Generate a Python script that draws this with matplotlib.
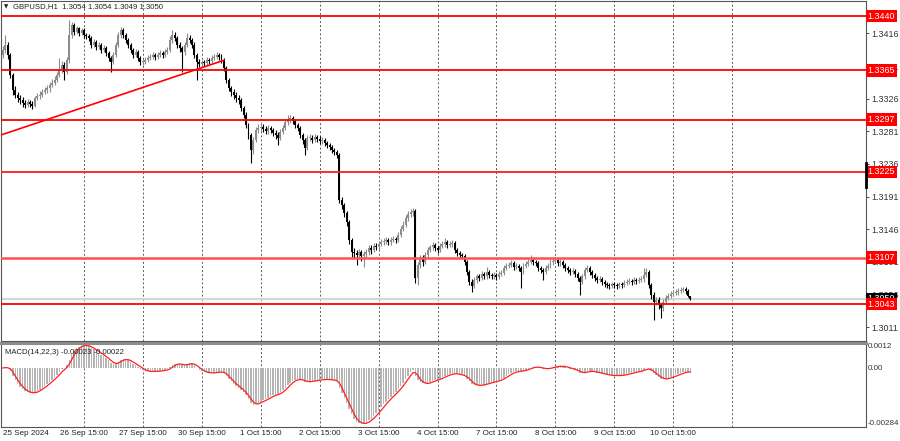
import matplotlib
matplotlib.use("Agg")
import matplotlib.pyplot as plt
import matplotlib.transforms as mtransforms
import numpy as np
import pandas as pd

plt.rcParams['font.family'] = ['Liberation Sans', 'DejaVu Sans']

# GBPUSD H1, one value per bar (bar 0 = 25 Sep 06:00)
first_open = 1.3386
closes = [
    1.3393, 1.3400, 1.3386, 1.3359, 1.3338, 1.3331, 1.3327, 1.3324, 1.3320, 1.3317,
    1.3321, 1.3319, 1.3316, 1.3327, 1.3330, 1.3331, 1.3335, 1.3338, 1.3341, 1.3345,
    1.3348, 1.3352, 1.3359, 1.3366, 1.3372, 1.3363, 1.3379, 1.3414, 1.3428, 1.3418,
    1.3423, 1.3417, 1.3421, 1.3414, 1.3412, 1.3410, 1.3400, 1.3404, 1.3397, 1.3400,
    1.3393, 1.3396, 1.3389, 1.3382, 1.3377, 1.3386, 1.3400, 1.3414, 1.3421, 1.3414,
    1.3407, 1.3400, 1.3393, 1.3386, 1.3390, 1.3382, 1.3377, 1.3377, 1.3379, 1.3382,
    1.3384, 1.3386, 1.3384, 1.3386, 1.3389, 1.3386, 1.3390, 1.3393, 1.3407, 1.3414,
    1.3410, 1.3400, 1.3396, 1.3390, 1.3400, 1.3410, 1.3407, 1.3400, 1.3386, 1.3377,
    1.3374, 1.3377, 1.3375, 1.3379, 1.3378, 1.3382, 1.3384, 1.3386, 1.3384, 1.3379,
    1.3368, 1.3352, 1.3341, 1.3335, 1.3331, 1.3327, 1.3324, 1.3313, 1.3304, 1.3290,
    1.3276, 1.3255, 1.3269, 1.3283, 1.3286, 1.3287, 1.3284, 1.3281, 1.3286, 1.3283,
    1.3279, 1.3276, 1.3272, 1.3280, 1.3286, 1.3294, 1.3297, 1.3299, 1.3295, 1.3290,
    1.3286, 1.3276, 1.3269, 1.3258, 1.3272, 1.3272, 1.3269, 1.3273, 1.3270, 1.3268,
    1.3269, 1.3265, 1.3262, 1.3259, 1.3255, 1.3252, 1.3248, 1.3186, 1.3179, 1.3168,
    1.3156, 1.3131, 1.3115, 1.3113, 1.3110, 1.3115, 1.3109, 1.3112, 1.3115, 1.3120,
    1.3117, 1.3123, 1.3121, 1.3126, 1.3128, 1.3130, 1.3131, 1.3128, 1.3131, 1.3133,
    1.3131, 1.3138, 1.3147, 1.3152, 1.3162, 1.3167, 1.3170, 1.3171, 1.3079, 1.3097,
    1.3106, 1.3101, 1.3110, 1.3117, 1.3121, 1.3124, 1.3120, 1.3117, 1.3123, 1.3126,
    1.3128, 1.3124, 1.3126, 1.3127, 1.3117, 1.3113, 1.3110, 1.3109, 1.3101, 1.3087,
    1.3073, 1.3068, 1.3076, 1.3081, 1.3079, 1.3084, 1.3081, 1.3087, 1.3083, 1.3081,
    1.3083, 1.3080, 1.3084, 1.3086, 1.3093, 1.3095, 1.3097, 1.3099, 1.3094, 1.3095,
    1.3093, 1.3087, 1.3095, 1.3098, 1.3101, 1.3104, 1.3101, 1.3099, 1.3093, 1.3090,
    1.3087, 1.3093, 1.3095, 1.3101, 1.3102, 1.3104, 1.3099, 1.3101, 1.3097, 1.3093,
    1.3090, 1.3087, 1.3088, 1.3084, 1.3079, 1.3073, 1.3081, 1.3090, 1.3093, 1.3087,
    1.3083, 1.3079, 1.3076, 1.3077, 1.3073, 1.3070, 1.3069, 1.3068, 1.3070, 1.3069,
    1.3068, 1.3070, 1.3069, 1.3072, 1.3073, 1.3075, 1.3073, 1.3076, 1.3075, 1.3076,
    1.3077, 1.3083, 1.3087, 1.3069, 1.3055, 1.3046, 1.3048, 1.3041, 1.3037, 1.3046,
    1.3051, 1.3054, 1.3057, 1.3058, 1.3059, 1.3061, 1.3062, 1.3064, 1.3061, 1.3054, 1.3050,
]
highs = [
    1.3398, 1.3414, 1.3404, 1.3389, 1.3362, 1.3343, 1.3335, 1.3331, 1.3328, 1.3324,
    1.3325, 1.3324, 1.3323, 1.3330, 1.3334, 1.3336, 1.3339, 1.3342, 1.3345, 1.3349,
    1.3353, 1.3357, 1.3363, 1.3382, 1.3378, 1.3376, 1.3384, 1.3434, 1.3432, 1.3430,
    1.3426, 1.3425, 1.3424, 1.3423, 1.3417, 1.3415, 1.3413, 1.3408, 1.3407, 1.3404,
    1.3403, 1.3400, 1.3399, 1.3392, 1.3385, 1.3390, 1.3404, 1.3418, 1.3425, 1.3424,
    1.3417, 1.3410, 1.3403, 1.3396, 1.3394, 1.3393, 1.3385, 1.3381, 1.3383, 1.3386,
    1.3388, 1.3390, 1.3389, 1.3390, 1.3393, 1.3392, 1.3394, 1.3397, 1.3412, 1.3421,
    1.3418, 1.3413, 1.3404, 1.3399, 1.3404, 1.3417, 1.3414, 1.3410, 1.3404, 1.3389,
    1.3381, 1.3380, 1.3380, 1.3383, 1.3382, 1.3386, 1.3388, 1.3390, 1.3389, 1.3387,
    1.3382, 1.3371, 1.3355, 1.3344, 1.3339, 1.3335, 1.3331, 1.3327, 1.3316, 1.3307,
    1.3293, 1.3279, 1.3273, 1.3287, 1.3291, 1.3294, 1.3291, 1.3288, 1.3290, 1.3289,
    1.3286, 1.3283, 1.3280, 1.3284, 1.3290, 1.3298, 1.3304, 1.3303, 1.3302, 1.3298,
    1.3293, 1.3289, 1.3279, 1.3272, 1.3276, 1.3277, 1.3276, 1.3277, 1.3276, 1.3274,
    1.3273, 1.3272, 1.3268, 1.3265, 1.3262, 1.3258, 1.3255, 1.3251, 1.3190, 1.3182,
    1.3171, 1.3159, 1.3134, 1.3120, 1.3117, 1.3119, 1.3118, 1.3116, 1.3119, 1.3124,
    1.3124, 1.3127, 1.3127, 1.3130, 1.3132, 1.3134, 1.3135, 1.3134, 1.3135, 1.3137,
    1.3136, 1.3142, 1.3151, 1.3157, 1.3166, 1.3171, 1.3174, 1.3175, 1.3174, 1.3101,
    1.3110, 1.3110, 1.3114, 1.3121, 1.3125, 1.3128, 1.3127, 1.3123, 1.3127, 1.3130,
    1.3134, 1.3131, 1.3130, 1.3131, 1.3130, 1.3120, 1.3116, 1.3113, 1.3112, 1.3104,
    1.3090, 1.3077, 1.3080, 1.3085, 1.3085, 1.3088, 1.3087, 1.3094, 1.3090, 1.3086,
    1.3087, 1.3086, 1.3088, 1.3090, 1.3097, 1.3099, 1.3101, 1.3103, 1.3102, 1.3099,
    1.3098, 1.3096, 1.3099, 1.3102, 1.3105, 1.3110, 1.3107, 1.3104, 1.3102, 1.3096,
    1.3093, 1.3097, 1.3099, 1.3105, 1.3106, 1.3108, 1.3107, 1.3105, 1.3104, 1.3100,
    1.3096, 1.3093, 1.3092, 1.3091, 1.3087, 1.3082, 1.3085, 1.3094, 1.3097, 1.3096,
    1.3090, 1.3086, 1.3082, 1.3081, 1.3080, 1.3076, 1.3073, 1.3072, 1.3074, 1.3073,
    1.3072, 1.3074, 1.3073, 1.3076, 1.3077, 1.3079, 1.3078, 1.3080, 1.3079, 1.3080,
    1.3081, 1.3093, 1.3092, 1.3090, 1.3072, 1.3059, 1.3053, 1.3052, 1.3045, 1.3050,
    1.3055, 1.3058, 1.3061, 1.3062, 1.3063, 1.3065, 1.3066, 1.3067, 1.3066, 1.3063, 1.3054,
]
lows = [
    1.3382, 1.3389, 1.3381, 1.3355, 1.3331, 1.3327, 1.3322, 1.3319, 1.3315, 1.3313,
    1.3314, 1.3315, 1.3312, 1.3314, 1.3324, 1.3326, 1.3328, 1.3332, 1.3334, 1.3335,
    1.3342, 1.3345, 1.3349, 1.3356, 1.3362, 1.3352, 1.3360, 1.3375, 1.3410, 1.3414,
    1.3415, 1.3413, 1.3414, 1.3410, 1.3408, 1.3406, 1.3396, 1.3397, 1.3393, 1.3394,
    1.3389, 1.3390, 1.3385, 1.3378, 1.3363, 1.3374, 1.3383, 1.3397, 1.3410, 1.3410,
    1.3403, 1.3396, 1.3389, 1.3382, 1.3383, 1.3378, 1.3373, 1.3373, 1.3374, 1.3376,
    1.3379, 1.3381, 1.3380, 1.3381, 1.3383, 1.3382, 1.3383, 1.3387, 1.3390, 1.3403,
    1.3405, 1.3396, 1.3391, 1.3363, 1.3386, 1.3397, 1.3403, 1.3396, 1.3382, 1.3352,
    1.3370, 1.3370, 1.3371, 1.3372, 1.3374, 1.3375, 1.3379, 1.3381, 1.3380, 1.3375,
    1.3364, 1.3348, 1.3337, 1.3330, 1.3326, 1.3322, 1.3319, 1.3309, 1.3299, 1.3285,
    1.3270, 1.3237, 1.3250, 1.3266, 1.3279, 1.3282, 1.3280, 1.3277, 1.3278, 1.3279,
    1.3275, 1.3271, 1.3262, 1.3269, 1.3277, 1.3283, 1.3290, 1.3293, 1.3291, 1.3286,
    1.3282, 1.3272, 1.3264, 1.3248, 1.3255, 1.3268, 1.3265, 1.3266, 1.3266, 1.3264,
    1.3264, 1.3261, 1.3258, 1.3255, 1.3251, 1.3248, 1.3244, 1.3182, 1.3174, 1.3163,
    1.3150, 1.3126, 1.3108, 1.3106, 1.3097, 1.3105, 1.3102, 1.3094, 1.3106, 1.3111,
    1.3112, 1.3114, 1.3117, 1.3118, 1.3123, 1.3125, 1.3126, 1.3124, 1.3125, 1.3128,
    1.3127, 1.3128, 1.3135, 1.3143, 1.3149, 1.3158, 1.3163, 1.3165, 1.3072, 1.3069,
    1.3093, 1.3096, 1.3098, 1.3107, 1.3114, 1.3118, 1.3116, 1.3113, 1.3114, 1.3120,
    1.3122, 1.3120, 1.3121, 1.3122, 1.3113, 1.3109, 1.3106, 1.3105, 1.3097, 1.3083,
    1.3069, 1.3059, 1.3065, 1.3072, 1.3075, 1.3076, 1.3077, 1.3078, 1.3079, 1.3077,
    1.3078, 1.3076, 1.3077, 1.3081, 1.3083, 1.3090, 1.3092, 1.3094, 1.3090, 1.3091,
    1.3089, 1.3065, 1.3084, 1.3092, 1.3095, 1.3098, 1.3097, 1.3095, 1.3089, 1.3086,
    1.3076, 1.3084, 1.3090, 1.3092, 1.3097, 1.3099, 1.3095, 1.3096, 1.3093, 1.3089,
    1.3086, 1.3083, 1.3084, 1.3080, 1.3075, 1.3055, 1.3070, 1.3078, 1.3087, 1.3083,
    1.3079, 1.3075, 1.3072, 1.3073, 1.3069, 1.3066, 1.3065, 1.3064, 1.3065, 1.3065,
    1.3064, 1.3065, 1.3065, 1.3066, 1.3069, 1.3070, 1.3069, 1.3070, 1.3071, 1.3072,
    1.3073, 1.3074, 1.3080, 1.3065, 1.3050, 1.3021, 1.3042, 1.3036, 1.3024, 1.3033,
    1.3043, 1.3048, 1.3051, 1.3054, 1.3055, 1.3056, 1.3058, 1.3059, 1.3057, 1.3052, 1.3049,
]

tick_bars = [0, 33, 57, 81, 105, 129, 153, 177, 201, 225, 249, 273]
tick_labels = ["25 Sep 2024", "26 Sep 15:00", "27 Sep 15:00", "30 Sep 15:00",
               "1 Oct 15:00", "2 Oct 15:00", "3 Oct 15:00", "4 Oct 15:00",
               "7 Oct 15:00", "8 Oct 15:00", "9 Oct 15:00", "10 Oct 15:00"]
grid_bars = [33, 57, 81, 105, 129, 153, 177, 201, 225, 249, 273, 297]

price_ticks = [1.3416, 1.3371, 1.3326, 1.3281, 1.3236, 1.3191, 1.3146, 1.3101, 1.3056, 1.3011]
levels = [1.3440, 1.3365, 1.3297, 1.3225, 1.3107, 1.3043]
level_colors = ['#ff0000', '#ff0000', '#ff0000', '#ff1a1a', '#ff5050', '#ff0000']
bid = 1.3050
trend_bars = [-0.8, 90]
trend_prices = [1.3276, 1.3379]
macd_range = (-0.00284, 0.0012)

# ---- figure layout (pixel based, 900x441) ----
W, H = 900, 441
fig = plt.figure(figsize=(W / 100, H / 100), dpi=100)
ax = fig.add_axes([1 / W, 1 - 341 / H, 865 / W, 340 / H])
axm = fig.add_axes([1 / W, 1 - 427 / H, 865 / W, 84 / H], sharex=ax)

opens = np.array([first_open] + closes[:-1])
c = np.array(closes)
idx = np.arange(len(c))
up = c >= opens
cols = np.where(up, '#8c8c8c', '#000000')

ax.axhline(bid, color='#d6d6d6', lw=1.6, zorder=1)
ax.vlines(idx, lows, highs, colors=cols, lw=0.8, zorder=2)
body_low = np.minimum(opens, c)
body_h = np.maximum(np.abs(c - opens), 0.0001)
ax.bar(idx, body_h, bottom=body_low, width=0.8, color=cols, lw=0, zorder=2)

for lv, lc in zip(levels, level_colors):
    ax.axhline(lv, color=lc, lw=1.3 if lv != 1.3107 else 1.8, zorder=3)
ax.plot(trend_bars, trend_prices, color='#ff0000', lw=1.2, zorder=3)

for a in (ax, axm):
    for g in grid_bars:
        a.axvline(g, color='#5a5a5a', lw=0.7, ls=(0, (2, 2.2)), zorder=0)
    for s in a.spines.values():
        s.set_color('#555555')
        s.set_linewidth(0.8)

ax.set_xlim(-0.8, 351.5)
ax.set_ylim(1.29920, 1.34607)
ax.yaxis.tick_right()
ax.set_yticks(price_ticks, labels=[f"{p:.4f}" for p in price_ticks])
ax.tick_params(axis='y', labelsize=6.4, length=2, width=0.6, pad=2, colors='#333333')
ax.tick_params(axis='x', bottom=False, labelbottom=False)

# level labels on the price scale
trans = mtransforms.blended_transform_factory(ax.transAxes, ax.transData)
ax.text(1.002, bid, f"{bid:.4f}", transform=trans, fontsize=6.4, color='white',
        va='center', ha='left', clip_on=False, zorder=10,
        bbox=dict(boxstyle='square,pad=0.2', fc='#000000', ec='none'))
for lv, lc in zip(levels, level_colors):
    ax.text(1.002, lv, f"{lv:.4f}", transform=trans, fontsize=6.4, color='white',
            va='center', ha='left', clip_on=False, zorder=10,
            bbox=dict(boxstyle='square,pad=0.2', fc='#ff0000', ec='none'))
ax.plot([1.0, 1.0], [1.3237, 1.3204], transform=trans, color='black', lw=2,
        clip_on=False, zorder=11)

fig.text(4 / W, 1 - 7 / H, "▼", fontsize=4, color='#222222', va='center',
         family=['DejaVu Sans'])
fig.text(13 / W, 1 - 7 / H, "GBPUSD,H1  1.3054 1.3054 1.3049 1.3050", fontsize=5.6,
         color='#222222', va='center')

# ---- MACD(14,22,3): histogram = EMA14 - EMA22, signal = SMA3 ----
s = pd.Series(closes)
macd = s.ewm(span=14, adjust=False).mean() - s.ewm(span=22, adjust=False).mean()
signal = macd.rolling(3, min_periods=1).mean()
axm.bar(idx, macd, width=0.6, color='#b4b4b4', lw=0, zorder=1)
axm.plot(idx, signal, color='#ff2020', lw=0.9, zorder=2)
axm.set_ylim(*macd_range)
axm.spines['top'].set_color('#8c8c8c')
axm.spines['top'].set_linewidth(2.2)
axm.yaxis.tick_right()
axm.set_yticks([0.0012, 0.0, -0.00284], labels=["0.0012", "0.00", "-0.00284"])
axm.tick_params(axis='y', labelsize=5.8, length=0, pad=1.5, colors='#333333')
yl = axm.get_yticklabels()
yl[0].set_va('top')
yl[2].set_va('bottom')
axm.set_xticks(tick_bars, labels=tick_labels)
axm.tick_params(axis='x', labelsize=5.8, length=0, pad=2.5, colors='#222222')
axm.get_xticklabels()[0].set_ha('left')
axm.text(4 / 865, 0.93, "MACD(14,22,3) -0.00023 -0.00022", transform=axm.transAxes,
         fontsize=5.6, color='#222222', va='top', ha='left')

fig.savefig("out.png", dpi=100, facecolor='white')
